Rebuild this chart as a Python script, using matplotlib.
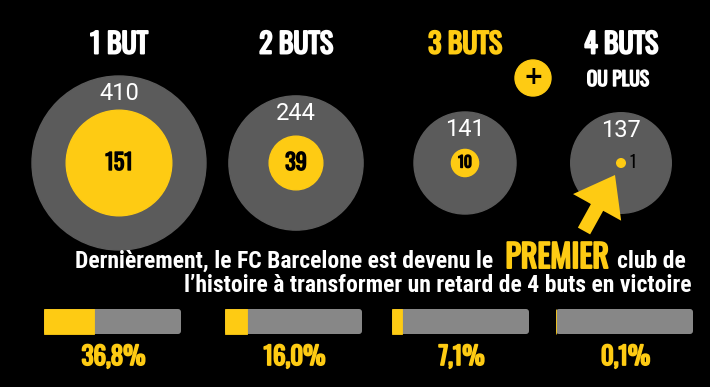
import matplotlib
matplotlib.use("Agg")
import matplotlib.pyplot as plt
import matplotlib.patheffects as pe
import numpy as np
from matplotlib import font_manager
from matplotlib.patches import Circle, FancyBboxPatch, FancyArrow

# Donnees
titres = ["1 BUT", "2 BUTS", "3 BUTS", "4 BUTS"]
totaux = [410, 244, 141, 137]
victoires = [151, 39, 10, 1]
pourcents = [36.8, 16.0, 7.1, 0.1]
pourcent_labels = ["36,8%", "16,0%", "7,1%", "0,1%"]
ligne1 = ["Dernièrement, le FC Barcelone est devenu le", "PREMIER", "club de"]
ligne2 = "l\u2019histoire à transformer un retard de 4 buts en victoire"

JAUNE = "#FECB13"
GRIS = "#5B5B5B"
GRIS_BARRE = "#878787"

# Police etroite si disponible
noms = {f.name for f in font_manager.fontManager.ttflist}
COND = "DejaVu Sans"
for c in ["Oswald", "Bebas Neue", "Roboto Condensed", "Liberation Sans Narrow"]:
    if c in noms:
        COND = c
        break
TEXTE = "DejaVu Sans"
for c in ["Roboto Condensed", "Roboto"]:
    if c in noms:
        TEXTE = c
        break
CHIFFRES = "Roboto" if "Roboto" in noms else "DejaVu Sans"


# faux gras avec un contour
def gras(couleur, lw=1.1):
    return [pe.withStroke(linewidth=lw, foreground=couleur)]


fig = plt.figure(figsize=(7.1, 3.87), dpi=100, facecolor="black")
ax = fig.add_axes([0, 0, 1, 1])
ax.set_xlim(0, 710)
ax.set_ylim(387, 0)
ax.axis("off")
rend = fig.canvas.get_renderer()

cx = [119, 296, 465, 621]
cy = 163
r_max = 87

for i in range(4):
    R = r_max * np.sqrt(totaux[i] / totaux[0])
    r = r_max * np.sqrt(victoires[i] / totaux[0])
    ax.add_patch(Circle((cx[i], cy), R, color=GRIS))
    ax.add_patch(Circle((cx[i], cy), r, color=JAUNE))
    ax.text(cx[i], cy - R + 18, str(totaux[i]), color="white", fontsize=17,
            family=CHIFFRES, ha="center", va="center")
    couleur = JAUNE if i == 2 else "white"
    ax.text(cx[i], 45, titres[i], color=couleur, fontsize=20, family=COND,
            fontweight="bold", ha="center", va="center",
            path_effects=gras(couleur, 1.4))
    if i < 3:
        ax.text(cx[i], cy, str(victoires[i]), color="black", fontsize=16 if i < 2 else 11,
                family=COND, fontweight="bold", ha="center", va="center",
                path_effects=gras("black", 1.0))
    else:
        ax.text(cx[i] + 12, cy, str(victoires[i]), color="black", fontsize=12,
                family=COND, ha="center", va="center")

ax.text(618, 79, "OU PLUS", color="white", fontsize=14, family=COND,
        fontweight="bold", ha="center", va="center", path_effects=gras("white", 1.0))

# rond "+"
ax.add_patch(Circle((533, 78), 18, color=JAUNE))
ax.text(533, 77, "+", color="black", fontsize=17, fontweight="bold",
        ha="center", va="center")

# fleche
ax.add_patch(FancyArrow(584, 231, 31, -56, width=14, head_width=55, head_length=37,
                        length_includes_head=True, color=JAUNE, lw=0))

# phrase : taille ajustee a la largeur de la reference
t1 = ax.text(75, 268, ligne1[0], color="white", fontsize=13, family=TEXTE,
             fontweight="bold", ha="left", va="baseline")
taille = 13 * 417 / t1.get_window_extent(rend).width
t1.set_fontsize(taille)
t2 = ax.text(557, 268, ligne1[1], color=JAUNE, fontsize=23, family=COND,
             fontweight="bold", ha="center", va="baseline",
             path_effects=gras(JAUNE, 1.4))
ax.text(617, 268, ligne1[2], color="white", fontsize=taille, family=TEXTE,
        fontweight="bold", ha="left", va="baseline")
ax.text(692, 292, ligne2, color="white", fontsize=taille, family=TEXTE,
        fontweight="bold", ha="right", va="baseline")

# barres
x_barres = [44, 225, 392, 556]
larg = 137
for i in range(4):
    ax.add_patch(FancyBboxPatch((x_barres[i], 309), larg, 25,
                                boxstyle="round,pad=0,rounding_size=3",
                                facecolor=GRIS_BARRE, edgecolor="none"))
    ax.barh(321.5, pourcents[i] / 100 * larg, left=x_barres[i], height=25,
            color=JAUNE, edgecolor=JAUNE, linewidth=0.6)
    ax.text(x_barres[i] + larg / 2 + 1, 357, pourcent_labels[i], color=JAUNE,
            fontsize=18, family=COND, fontweight="bold", ha="center", va="center",
            path_effects=gras(JAUNE, 1.3))

ax.set_xlim(0, 710)
ax.set_ylim(387, 0)
fig.savefig("out.png", dpi=100, facecolor="black")
